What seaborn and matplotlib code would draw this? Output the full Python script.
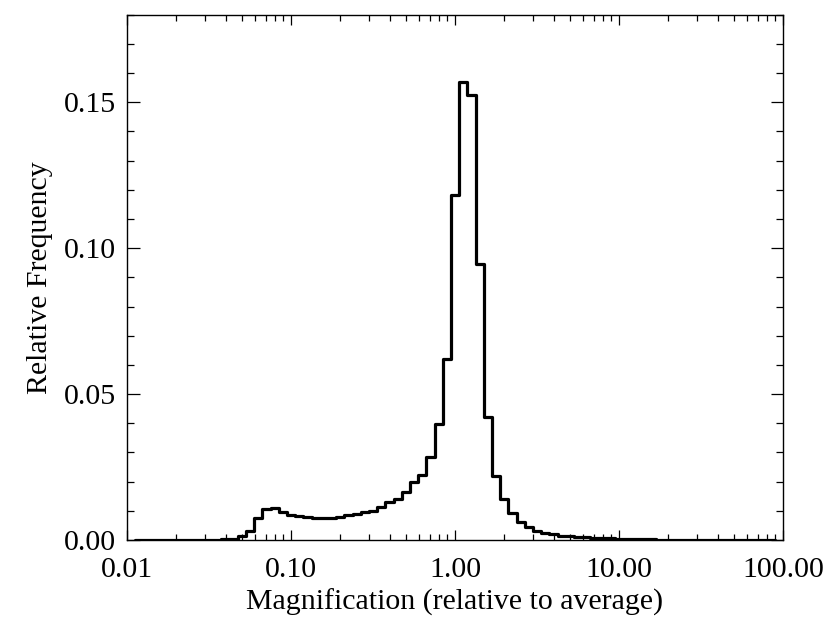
import numpy as np
import pandas as pd
import matplotlib
matplotlib.use("Agg")
import matplotlib.pyplot as plt
import seaborn as sns
from matplotlib.ticker import FixedLocator, MultipleLocator, NullFormatter

# ---- data -------------------------------------------------------------
log_bin_start = -1.95   # log10 of first bin centre
log_bin_width = 0.05    # bin width in dex
rel_freq = [
    0.0, 0.0, 0.0, 0.0, 0.0, 0.0, 0.0, 0.0, 0.0,               # -1.95 .. -1.55
    0.00005, 0.0001, 0.0002, 0.0005, 0.0012, 0.0031,           # -1.50 .. -1.25
    0.0074, 0.0107, 0.0108, 0.0097, 0.0087, 0.0081,            # -1.20 .. -0.95
    0.0078, 0.0077, 0.0077, 0.0077, 0.0079, 0.0084,            # -0.90 .. -0.65
    0.0089, 0.0095, 0.0101, 0.0113, 0.0131, 0.0141,            # -0.60 .. -0.35
    0.0165, 0.0200, 0.0222, 0.0283, 0.0398, 0.0621,            # -0.30 .. -0.05
    0.1182, 0.1568, 0.1524, 0.0945, 0.0423, 0.0221,            #  0.00 ..  0.25
    0.0139, 0.0092, 0.0061, 0.0043, 0.0032, 0.0025,            #  0.30 ..  0.55
    0.0019, 0.0015, 0.0013, 0.0011, 0.0009, 0.0008,            #  0.60 ..  0.85
    0.0007, 0.0006, 0.0005, 0.0004, 0.0003, 0.00025,           #  0.90 ..  1.15
    0.0002, 0.00015, 0.0001, 0.0001, 0.00005,                  #  1.20 ..  1.40
    0.0, 0.0, 0.0, 0.0, 0.0, 0.0, 0.0, 0.0, 0.0, 0.0, 0.0,     #  1.45 ..  1.95
]
xtick_values = [0.01, 0.1, 1.0, 10.0, 100.0]
xtick_labels = ["0.01", "0.10", "1.00", "10.00", "100.00"]
ytick_values = [0.00, 0.05, 0.10, 0.15]
ytick_labels = ["0.00", "0.05", "0.10", "0.15"]
x_label = "Magnification (relative to average)"
y_label = "Relative Frequency"

# ---- frame ------------------------------------------------------------
magnification = 10 ** (log_bin_start + log_bin_width * np.arange(len(rel_freq)))
df = pd.DataFrame({"log_mag": np.log10(magnification), "freq": rel_freq})

sns.set_theme(style="ticks")
plt.rcParams["font.family"] = ["Liberation Serif", "DejaVu Serif"]

fig = plt.figure(figsize=(8.31, 6.20), dpi=100)
ax = fig.add_axes([127 / 831, 1 - 540 / 620, (783 - 127) / 831, (540 - 14.7) / 620])

sns.lineplot(data=df, x="log_mag", y="freq", ax=ax, color="black",
             linewidth=2.3, drawstyle="steps-mid", estimator=None, sort=False)

ax.set_xlim(np.log10(0.01), np.log10(100.0))
ax.set_ylim(0.0, 0.18)

# log-style ticks on a log10 axis
ax.xaxis.set_major_locator(FixedLocator(np.log10(xtick_values)))
ax.set_xticklabels(xtick_labels)
minor = [np.log10(m * 10.0 ** d) for d in range(-2, 2) for m in range(2, 10)]
ax.xaxis.set_minor_locator(FixedLocator(minor))
ax.xaxis.set_minor_formatter(NullFormatter())

ax.yaxis.set_major_locator(FixedLocator(ytick_values))
ax.set_yticklabels(ytick_labels)
ax.yaxis.set_minor_locator(MultipleLocator(0.01))

for s in ax.spines.values():
    s.set_visible(True)
    s.set_linewidth(1.0)
    s.set_color("black")

ax.tick_params(axis="both", which="both", direction="in", top=True, right=True,
               color="black", width=0.9, labelsize=21.5, labelcolor="black")
ax.tick_params(axis="x", which="major", length=7, pad=12)
ax.tick_params(axis="x", which="minor", length=4)
ax.tick_params(axis="y", which="major", length=9, pad=8)
ax.tick_params(axis="y", which="minor", length=5)

ax.set_xlabel(x_label, fontsize=21.5, color="black", labelpad=4)
ax.set_ylabel(y_label, fontsize=21.5, color="black", labelpad=8)

fig.savefig("out.png", dpi=100)
